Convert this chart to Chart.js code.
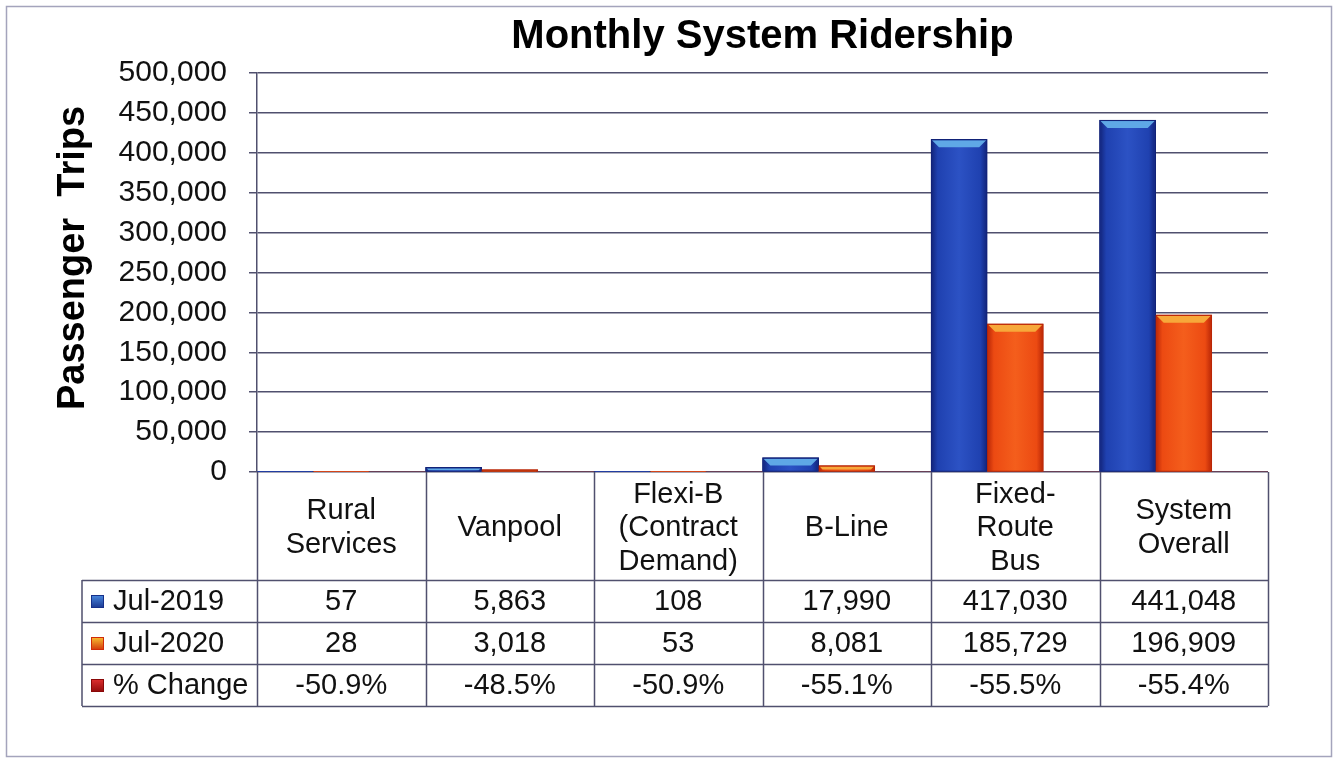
<!DOCTYPE html>
<html>
<head>
<meta charset="utf-8">
<title>Monthly System Ridership</title>
<script src="https://cdn.jsdelivr.net/npm/chart.js@4/dist/chart.umd.min.js"></script>
<style>
  body { margin: 0; background: #fff; }
  #wrap { width: 1337px; height: 759px; position: relative; }
</style>
</head>
<body>
<div id="wrap"><canvas id="ridership-chart"></canvas></div>
<script>
const categories = [
  ["Rural", "Services"],
  ["Vanpool"],
  ["Flexi-B", "(Contract", "Demand)"],
  ["B-Line"],
  ["Fixed-", "Route", "Bus"],
  ["System", "Overall"],
];
const seriesNames = ["Jul-2019", "Jul-2020", "% Change"];
const jul2019 = [57, 5863, 108, 17990, 417030, 441048];
const jul2020 = [28, 3018, 53, 8081, 185729, 196909];
const pctChange = [-50.9, -48.5, -50.9, -55.1, -55.5, -55.4];
const yTicks = [0, 50000, 100000, 150000, 200000, 250000, 300000, 350000, 400000, 450000, 500000];

const FONT = "'Liberation Sans', Arial, sans-serif";
const LINE = "#50506e";

const barLook = [
  { dark: "#122378", main: "#1f41b0", light: "#2c52c4", bevel: "#5fa8e6" },
  { dark: "#b82606", main: "#ec4a12", light: "#f45e1c", bevel: "#f7a83a" },
];
const markerLook = [
  { dark: "#16308a", light: "#4a8ae0" },
  { dark: "#d02a08", light: "#f8c030" },
  { dark: "#8a0808", light: "#e03030" },
];

function fmt(n) {
  return n.toLocaleString("en-US");
}

// bevelled look on top of the library's bars
const barShade = {
  id: "barShade",
  afterDatasetsDraw(chart) {
    const ctx = chart.ctx;
    [0, 1].forEach((di) => {
      const look = barLook[di];
      chart.getDatasetMeta(di).data.forEach((bar) => {
        const left = bar.x - bar.width / 2;
        const right = bar.x + bar.width / 2;
        const top = bar.y;
        const h = bar.base - bar.y;
        if (h < 1) return;
        ctx.save();
        const g = ctx.createLinearGradient(left, 0, right, 0);
        g.addColorStop(0, look.dark);
        g.addColorStop(0.12, look.main);
        g.addColorStop(0.5, look.light);
        g.addColorStop(0.88, look.main);
        g.addColorStop(1, look.dark);
        ctx.fillStyle = g;
        ctx.fillRect(left + 1, top + 1, bar.width - 2, h - 1);
        const bv = Math.min(7, h / 2);
        ctx.fillStyle = look.bevel;
        ctx.beginPath();
        ctx.moveTo(left + 1, top + 1);
        ctx.lineTo(right - 1, top + 1);
        ctx.lineTo(right - 1 - bv, top + 1 + bv);
        ctx.lineTo(left + 1 + bv, top + 1 + bv);
        ctx.closePath();
        ctx.fill();
        ctx.strokeStyle = look.dark;
        ctx.lineWidth = 1;
        ctx.strokeRect(left + 0.5, top + 0.5, bar.width - 1, h - 0.5);
        ctx.restore();
      });
    });
  },
};

// title, axis title, data table and frame
const tableAndFrame = {
  id: "tableAndFrame",
  afterDraw(chart) {
    const ctx = chart.ctx;
    const area = chart.chartArea;
    const x = chart.scales.x;
    const colW = (area.right - area.left) / categories.length;
    const headTop = area.bottom;
    const headBottom = headTop + 108;
    const rowH = 42;
    const tableBottom = headBottom + rowH * 3;
    const legendLeft = 82;

    ctx.save();
    // frame
    ctx.strokeStyle = "#a4a4bc";
    ctx.lineWidth = 1.5;
    ctx.strokeRect(6.5, 6.5, 1325, 750);

    // title
    ctx.fillStyle = "#000";
    ctx.font = "bold 40px " + FONT;
    ctx.textAlign = "center";
    ctx.textBaseline = "alphabetic";
    ctx.fillText("Monthly System Ridership", (area.left + area.right) / 2, 48);

    // y axis title
    ctx.save();
    ctx.translate(84, 258);
    ctx.rotate(-Math.PI / 2);
    ctx.font = "bold 38px " + FONT;
    ctx.fillText("Passenger  Trips", 0, 0);
    ctx.restore();

    // table lines
    ctx.strokeStyle = LINE;
    ctx.lineWidth = 1.5;
    ctx.beginPath();
    for (let i = 0; i <= categories.length; i++) {
      const cx = Math.round(x.getPixelForValue(0) - colW / 2 + i * colW) + 0.5;
      ctx.moveTo(cx, headTop);
      ctx.lineTo(cx, tableBottom);
    }
    ctx.moveTo(legendLeft, headBottom);
    ctx.lineTo(legendLeft, tableBottom);
    for (let r = 0; r <= 3; r++) {
      const ry = Math.round(headBottom + r * rowH) + 0.5;
      ctx.moveTo(legendLeft, ry);
      ctx.lineTo(area.right, ry);
    }
    ctx.stroke();

    // header labels
    ctx.fillStyle = "#111";
    ctx.font = "29px " + FONT;
    ctx.textAlign = "center";
    ctx.textBaseline = "middle";
    const lineGap = 33.5;
    categories.forEach((lines, i) => {
      const cx = x.getPixelForValue(i);
      const mid = (headTop + headBottom) / 2 + 2;
      lines.forEach((t, k) => {
        ctx.fillText(t, cx, mid + (k - (lines.length - 1) / 2) * lineGap);
      });
    });

    // rows
    const rows = [
      jul2019.map(fmt),
      jul2020.map(fmt),
      pctChange.map((v) => v.toFixed(1) + "%"),
    ];
    rows.forEach((vals, r) => {
      const cy = headBottom + r * rowH + rowH / 2 + 1;
      vals.forEach((v, i) => {
        ctx.textAlign = "center";
        ctx.fillText(v, x.getPixelForValue(i), cy);
      });
      // legend marker
      const m = markerLook[r];
      const g = ctx.createLinearGradient(0, cy - 7, 0, cy + 7);
      g.addColorStop(0, m.light);
      g.addColorStop(1, m.dark);
      ctx.fillStyle = g;
      ctx.fillRect(91, cy - 7, 13, 13);
      ctx.strokeStyle = m.dark;
      ctx.lineWidth = 1;
      ctx.strokeRect(91.5, cy - 6.5, 12, 12);
      ctx.fillStyle = "#111";
      ctx.textAlign = "left";
      ctx.fillText(seriesNames[r], 113, cy);
    });
    ctx.restore();
  },
};

const ctx = document.getElementById("ridership-chart").getContext("2d");
new Chart(ctx, {
  type: "bar",
  data: {
    labels: categories,
    datasets: [
      { label: seriesNames[0], data: jul2019, backgroundColor: barLook[0].main, borderColor: barLook[0].dark, borderWidth: 1 },
      { label: seriesNames[1], data: jul2020, backgroundColor: barLook[1].main, borderColor: barLook[1].dark, borderWidth: 1 },
      { label: seriesNames[2], data: pctChange, backgroundColor: "#b01010", borderWidth: 0 },
    ],
  },
  plugins: [barShade, tableAndFrame],
  options: {
    responsive: true,
    maintainAspectRatio: false,
    animation: false,
    layout: { padding: { top: 73, right: 69, bottom: 287, left: 0 } },
    plugins: {
      legend: { display: false },
      title: { display: false },
      tooltip: { enabled: false },
    },
    datasets: {
      bar: { categoryPercentage: 1.0, barPercentage: 1.0 },
    },
    scales: {
      x: { display: false },
      y: {
        min: 0,
        max: 500000,
        afterFit(scale) { scale.width = 257; },
        afterBuildTicks(scale) { scale.ticks = yTicks.map((v) => ({ value: v })); },
        ticks: {
          padding: 22,
          color: "#111",
          font: { family: FONT, size: 30 },
          callback: (v) => fmt(v),
        },
        grid: { color: LINE, lineWidth: 1.5, tickLength: 8 },
        border: { display: true, color: LINE, width: 1.5 },
      },
    },
  },
});
</script>
</body>
</html>
